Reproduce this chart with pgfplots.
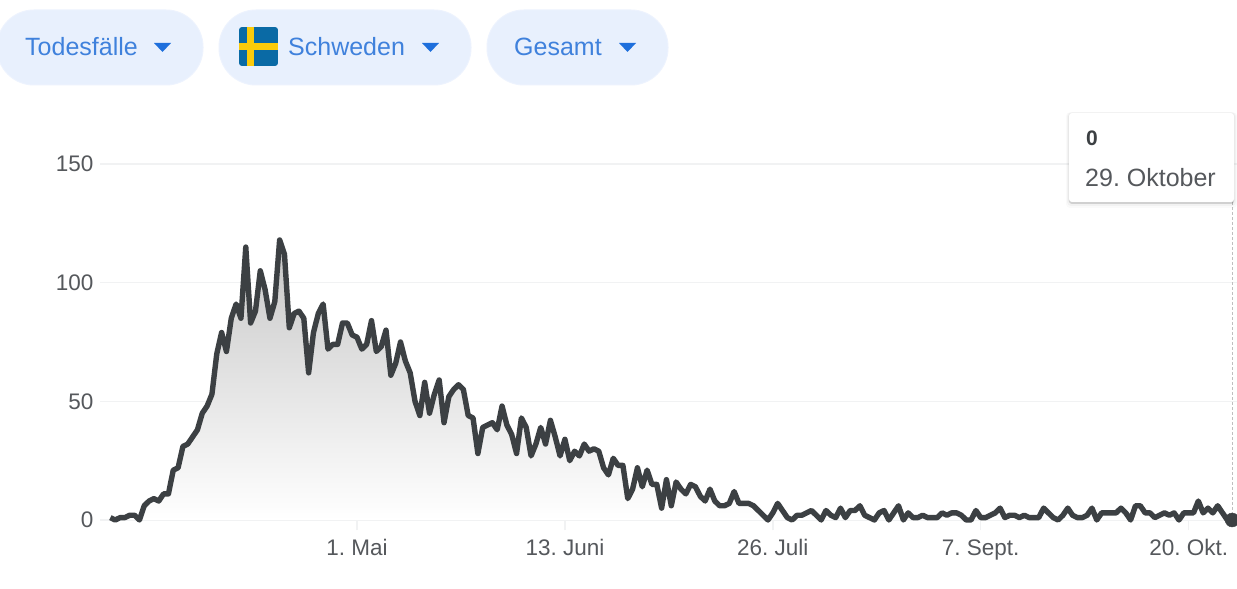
\documentclass[border=0pt]{standalone}
\usepackage{fontspec}
\setmainfont{Liberation Sans}
\usepackage{pgfplots}
\usepackage{pgfplotstable}
\pgfplotsset{compat=1.18}
\definecolor{linegray}{HTML}{3C4043}
\definecolor{textgray}{HTML}{55585C}
\definecolor{gridgray}{HTML}{F1F2F3}
\definecolor{chipfill}{HTML}{E8F0FD}
\definecolor{chipedge}{HTML}{EDF3FE}
\definecolor{chiptext}{HTML}{3F81DC}
\definecolor{chiparrow}{HTML}{1E6FDC}
\definecolor{flagblue}{HTML}{0A6AA5}
\definecolor{flagyellow}{HTML}{FBCB0A}

% day index (0 = 11 March), new deaths
\pgfplotstableread[row sep=\\]{
day val\\
0 1\\ 1 0\\ 2 1\\ 3 1\\ 4 2\\ 5 2\\ 6 0\\ 7 6\\ 8 8\\ 9 9\\
10 8\\ 11 11\\ 12 11\\ 13 21\\ 14 22\\ 15 31\\ 16 32\\ 17 35\\ 18 38\\ 19 45\\
20 48\\ 21 53\\ 22 70\\ 23 79\\ 24 71\\ 25 85\\ 26 91\\ 27 85\\ 28 115\\ 29 83\\
30 88\\ 31 105\\ 32 97\\ 33 85\\ 34 92\\ 35 118\\ 36 112\\ 37 81\\ 38 87\\ 39 88\\
40 85\\ 41 62\\ 42 79\\ 43 87\\ 44 91\\ 45 72\\ 46 74\\ 47 74\\ 48 83\\ 49 83\\
50 78\\ 51 77\\ 52 72\\ 53 74\\ 54 84\\ 55 71\\ 56 73\\ 57 80\\ 58 61\\ 59 66\\
60 75\\ 61 67\\ 62 62\\ 63 50\\ 64 44\\ 65 58\\ 66 45\\ 67 53\\ 68 59\\ 69 41\\
70 52\\ 71 55\\ 72 57\\ 73 55\\ 74 44\\ 75 43\\ 76 28\\ 77 39\\ 78 40\\ 79 41\\
80 38\\ 81 48\\ 82 40\\ 83 36\\ 84 28\\ 85 43\\ 86 39\\ 87 27\\ 88 32\\ 89 39\\
90 32\\ 91 42\\ 92 35\\ 93 27\\ 94 34\\ 95 25\\ 96 29\\ 97 27\\ 98 32\\ 99 29\\
100 30\\ 101 29\\ 102 22\\ 103 19\\ 104 26\\ 105 23\\ 106 23\\ 107 9\\ 108 13\\ 109 22\\
110 14\\ 111 21\\ 112 15\\ 113 15\\ 114 5\\ 115 17\\ 116 6\\ 117 16\\ 118 13\\ 119 11\\
120 15\\ 121 14\\ 122 10\\ 123 8\\ 124 13\\ 125 8\\ 126 6\\ 127 6\\ 128 7\\ 129 12\\
130 7\\ 131 7\\ 132 7\\ 133 6\\ 134 4\\ 135 2\\ 136 0\\ 137 3\\ 138 7\\ 139 4\\
140 1\\ 141 0\\ 142 2\\ 143 2\\ 144 3\\ 145 4\\ 146 2\\ 147 0\\ 148 4\\ 149 2\\
150 1\\ 151 5\\ 152 1\\ 153 4\\ 154 4\\ 155 6\\ 156 2\\ 157 1\\ 158 0\\ 159 3\\
160 4\\ 161 0\\ 162 3\\ 163 6\\ 164 0\\ 165 3\\ 166 1\\ 167 1\\ 168 2\\ 169 1\\
170 1\\ 171 1\\ 172 3\\ 173 2\\ 174 3\\ 175 3\\ 176 2\\ 177 0\\ 178 0\\ 179 4\\
180 1\\ 181 1\\ 182 2\\ 183 3\\ 184 5\\ 185 1\\ 186 2\\ 187 2\\ 188 1\\ 189 2\\
190 1\\ 191 1\\ 192 1\\ 193 5\\ 194 3\\ 195 1\\ 196 0\\ 197 2\\ 198 5\\ 199 2\\
200 1\\ 201 1\\ 202 2\\ 203 5\\ 204 0\\ 205 3\\ 206 3\\ 207 3\\ 208 3\\ 209 5\\
210 3\\ 211 0\\ 212 6\\ 213 6\\ 214 3\\ 215 3\\ 216 1\\ 217 2\\ 218 3\\ 219 2\\
220 3\\ 221 0\\ 222 3\\ 223 3\\ 224 3\\ 225 8\\ 226 3\\ 227 5\\ 228 3\\ 229 6\\
230 3\\ 231 0\\ 232 0\\
}\deaths

\begin{document}
\frenchspacing
\begin{tikzpicture}[x=1pt,y=1pt]
\fill[white,use as bounding box] (0,0) rectangle (1237,589);
\begin{axis}[
  at={(100pt,69pt)}, anchor=south west,
  scale only axis, width=1137pt, height=356pt,
  xmin=-2.15, xmax=233, ymin=0, ymax=150,
  clip=false,
  axis line style={draw=none},
  ymajorgrids, grid style={gridgray,line width=1.5pt},
  xtick={51,94,137,180,223},
  xticklabels={1. Mai,13. Juni,26. Juli,7. Sept.,20. Okt.},
  ytick={0,50,100,150},
  /pgf/number format/assume math mode=true,
  tick label style={font=\fontsize{22.5}{26}\selectfont,text=textgray},
  xticklabel style={yshift=-6pt},
  yticklabel style={xshift=7pt},
  major tick length=10pt, tick align=outside, xtick pos=bottom,
  xtick style={gridgray,line width=1.5pt},
  ytick style={draw=none},
]
\addplot[draw=none,top color=black!22,bottom color=white] table[x=day,y=val] {\deaths} \closedcycle;
\addplot[black!25,densely dashed,line width=1pt] coordinates {(232,0) (232,150)};
\addplot[linegray,line width=5.4pt,line join=round] table[x=day,y=val] {\deaths};
\addplot[only marks,mark=*,mark size=7pt,mark options={fill=linegray,draw=linegray}] coordinates {(232,0)};
\end{axis}

% filter chips
\fill[chipfill,draw=chipedge,line width=1pt,rounded corners=37pt] (-3,504) rectangle (203,579);
\fill[chipfill,draw=chipedge,line width=1pt,rounded corners=37pt] (219,504) rectangle (471,579);
\fill[chipfill,draw=chipedge,line width=1pt,rounded corners=37pt] (487,504) rectangle (668,579);
\tikzset{chiplabel/.style={anchor=base west,inner sep=0pt,text=chiptext,font=\fontsize{25}{29}\selectfont}}
\node[chiplabel] at (25,533) {Todesfälle};
\node[chiplabel] at (288,533) {Schweden};
\node[chiplabel] at (514,533) {Gesamt};
\fill[chiparrow] (154,546) -- (171,546) -- (162.5,537) -- cycle;
\fill[chiparrow] (422,546) -- (439,546) -- (430.5,537) -- cycle;
\fill[chiparrow] (619,546) -- (636,546) -- (627.5,537) -- cycle;
% flag
\begin{scope}
\clip[rounded corners=3pt] (239,523) rectangle (278,562);
\fill[flagblue] (239,523) rectangle (278,562);
\fill[flagyellow] (246.5,523) rectangle (254,562);
\fill[flagyellow] (239,538.5) rectangle (278,545.5);
\end{scope}

% tooltip, shadow mostly below the box
\foreach \g/\o in {3/0.02,2/0.03,1/0.04}
  \fill[black,opacity=\o,rounded corners=4pt] (1069-\g,387-2*\g) rectangle (1234+\g,476+0.3*\g);
\fill[black,opacity=0.10,rounded corners=3pt] (1069,385) rectangle (1234,400);
\fill[white,rounded corners=3pt] (1069,387) rectangle (1234,476);
\node[anchor=base west,inner sep=0pt,text=linegray,font=\fontsize{21}{25}\selectfont\bfseries] at (1086,443) {0};
\node[anchor=base west,inner sep=0pt,text=textgray,font=\fontsize{25}{29}\selectfont] at (1085,402) {29. Oktober};
\end{tikzpicture}
\end{document}
